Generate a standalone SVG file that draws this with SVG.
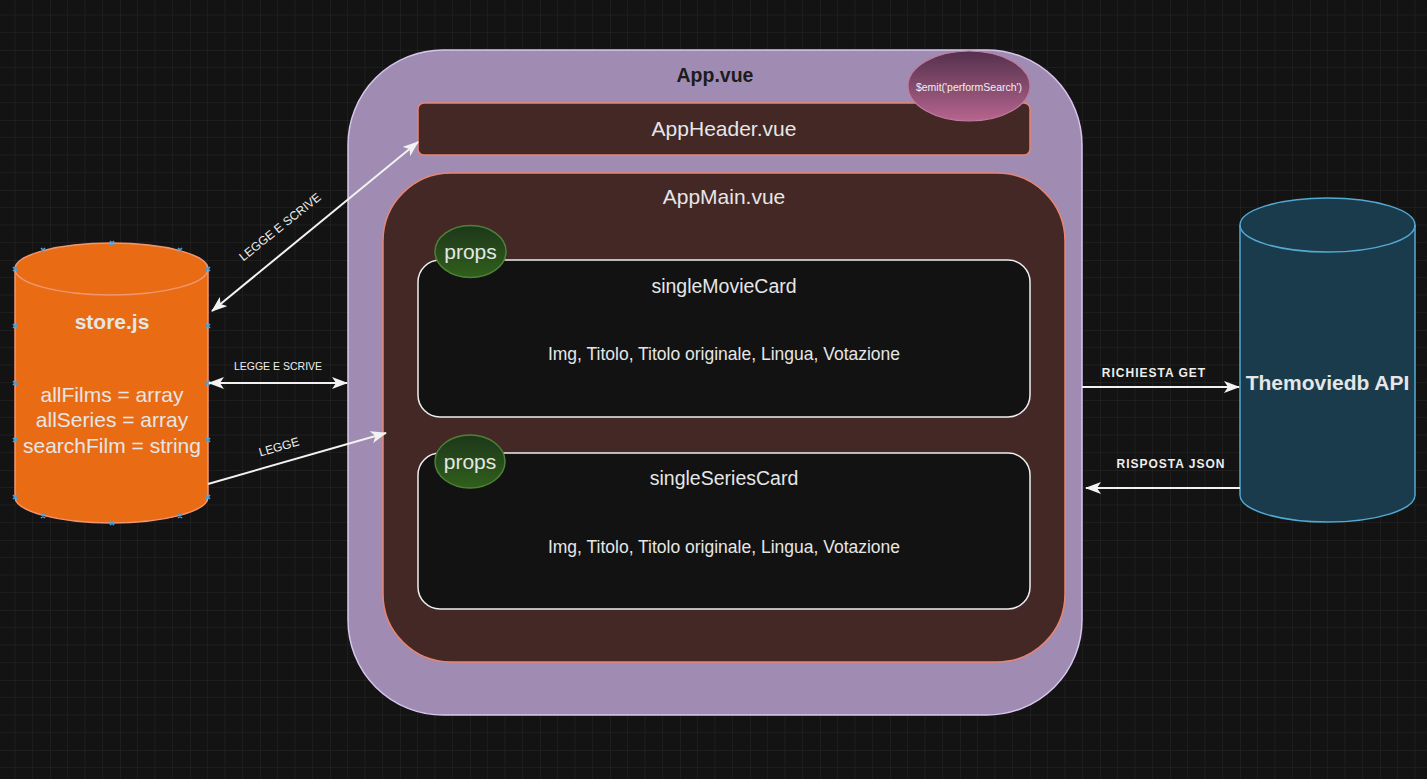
<svg xmlns="http://www.w3.org/2000/svg" width="1427" height="779" viewBox="0 0 1427 779">
<style>
text{font-family:"Liberation Sans",Arial,sans-serif;fill:#e6e6e6;text-anchor:middle}
.big{font-size:19.5px}
.hdr{font-size:21px}
.st{font-size:21px}
.mid{font-size:17.5px}
.b{font-weight:bold}
.lbl{font-size:10.5px;fill:#eeeeee}
.lblr{font-size:12px;fill:#eeeeee}
.lblb{font-size:12px;font-weight:bold;letter-spacing:1px;fill:#eeeeee}
.conn{stroke:#f2f2f2;stroke-width:2;fill:none}
.card{fill:#121212;stroke:#eeeeee;stroke-width:1.5}
.dark{fill:#432826;stroke:#ea8470;stroke-width:1.5}
.xm{stroke:#3aa6f0;stroke-width:1.6;fill:none}
</style>
<defs>
<pattern id="grid" patternUnits="userSpaceOnUse" x="50" y="50" width="70" height="70">
<path d="M17.5 0V70M35 0V70M52.5 0V70M0 17.5H70M0 35H70M0 52.5H70" stroke="#1d1d1d" stroke-width="1"/>
<path d="M0 0V70M0 0H70" stroke="#2a2a2a" stroke-width="1"/>
</pattern>
<linearGradient id="gEmit" x1="0" y1="0" x2="0" y2="1">
<stop offset="0" stop-color="#53304b"/>
<stop offset="1" stop-color="#b6658f"/>
</linearGradient>
<linearGradient id="gProps" x1="0" y1="0" x2="0" y2="1">
<stop offset="0" stop-color="#1d371a"/>
<stop offset="1" stop-color="#30601c"/>
</linearGradient>
<marker id="ah" viewBox="0 0 16 12" refX="15" refY="6" markerWidth="16" markerHeight="12" markerUnits="userSpaceOnUse" orient="auto-start-reverse">
<path d="M0 0L16 6L0 12L4 6Z" fill="#f2f2f2"/>
</marker>
</defs>
<rect width="1427" height="779" fill="#131313"/>
<rect width="1427" height="779" fill="url(#grid)"/>

<g id="app">
<rect x="348" y="50" width="734" height="665" rx="95" ry="95" fill="#a08cb2" stroke="#d6c6ee" stroke-width="1.5"/>
<text class="big b" x="715" y="82" style="fill:#1c1c1c">App.vue</text>
</g>

<g id="appheader">
<rect class="dark" x="418" y="103" width="612" height="52" rx="6" ry="6"/>
<text class="hdr" x="724" y="136">AppHeader.vue</text>
</g>

<g id="emit">
<ellipse cx="969" cy="86" rx="61" ry="35" fill="url(#gEmit)" stroke="#c27a9f" stroke-width="1.2"/>
<text x="969" y="91" style="font-size:10.5px;fill:#f0f0f0">$emit('performSearch')</text>
</g>

<g id="appmain">
<rect class="dark" x="383" y="173" width="682" height="489" rx="68" ry="68"/>
<text class="hdr" x="724" y="204">AppMain.vue</text>
</g>

<g id="singleMovieCard">
<rect class="card" x="418" y="260" width="612" height="157" rx="22" ry="22"/>
<text class="big" x="724" y="293">singleMovieCard</text>
<text class="mid" x="724" y="360">Img, Titolo, Titolo originale, Lingua, Votazione</text>
</g>

<g id="singleSeriesCard">
<rect class="card" x="418" y="453" width="612" height="156" rx="22" ry="22"/>
<text class="big" x="724" y="485">singleSeriesCard</text>
<text class="mid" x="724" y="553">Img, Titolo, Titolo originale, Lingua, Votazione</text>
</g>

<g id="props1">
<ellipse cx="470.5" cy="251.5" rx="35.5" ry="26" fill="url(#gProps)" stroke="#4d8236" stroke-width="1.5"/>
<text x="470.5" y="259" style="font-size:21px">props</text>
</g>

<g id="props2">
<ellipse cx="470" cy="461.5" rx="35" ry="26.5" fill="url(#gProps)" stroke="#4d8236" stroke-width="1.5"/>
<text x="470" y="469" style="font-size:21px">props</text>
</g>

<g id="store">
<path d="M15 269A96.5 26 0 0 1 208 269L208 497A96.5 26 0 0 1 15 497Z" fill="#e96c15" stroke="#f29670" stroke-width="1.5"/>
<path d="M15 269A96.5 26 0 0 0 208 269" fill="none" stroke="#f29670" stroke-width="1.5"/>
<text class="st b" x="112" y="329">store.js</text>
<text class="st" x="112" y="402">allFilms = array</text>
<text class="st" x="112" y="427">allSeries = array</text>
<text class="st" x="112" y="453">searchFilm = string</text>
<path class="xm" d="M110 241l4 4m0-4l-4 4M41 248l4 4m0-4l-4 4M178 248l4 4m0-4l-4 4M13 267l4 4m0-4l-4 4M206 267l4 4m0-4l-4 4M13 324l4 4m0-4l-4 4M206 324l4 4m0-4l-4 4M13 381l4 4m0-4l-4 4M206 381l4 4m0-4l-4 4M13 438l4 4m0-4l-4 4M206 438l4 4m0-4l-4 4M13 495l4 4m0-4l-4 4M206 495l4 4m0-4l-4 4M41 514l4 4m0-4l-4 4M178 514l4 4m0-4l-4 4M110 521l4 4m0-4l-4 4"/>
</g>

<g id="api">
<path d="M1240 225A87.5 27 0 0 1 1415 225L1415 495A87.5 27 0 0 1 1240 495Z" fill="#1a3b4b" stroke="#52aad4" stroke-width="1.5"/>
<path d="M1240 225A87.5 27 0 0 0 1415 225" fill="none" stroke="#52aad4" stroke-width="1.5"/>
<text class="st b" x="1327.5" y="390">Themoviedb API</text>
</g>

<g id="connectors">
<line class="conn" x1="212" y1="311" x2="418" y2="142" marker-start="url(#ah)" marker-end="url(#ah)"/>
<text class="lblr" transform="translate(280 227) rotate(-38.7)" y="4">LEGGE E SCRIVE</text>
<line class="conn" x1="209" y1="383" x2="347" y2="383" marker-start="url(#ah)" marker-end="url(#ah)"/>
<text class="lbl" x="278" y="370">LEGGE E SCRIVE</text>
<line class="conn" x1="208" y1="484" x2="386" y2="433" marker-end="url(#ah)"/>
<text class="lblr" transform="translate(279 447) rotate(-16)" y="4">LEGGE</text>
<line class="conn" x1="1082" y1="387" x2="1239" y2="387" marker-end="url(#ah)"/>
<text class="lblb" x="1154" y="377">RICHIESTA GET</text>
<line class="conn" x1="1240" y1="488" x2="1086" y2="488" marker-end="url(#ah)"/>
<text class="lblb" x="1171" y="468">RISPOSTA JSON</text>
</g>
</svg>
